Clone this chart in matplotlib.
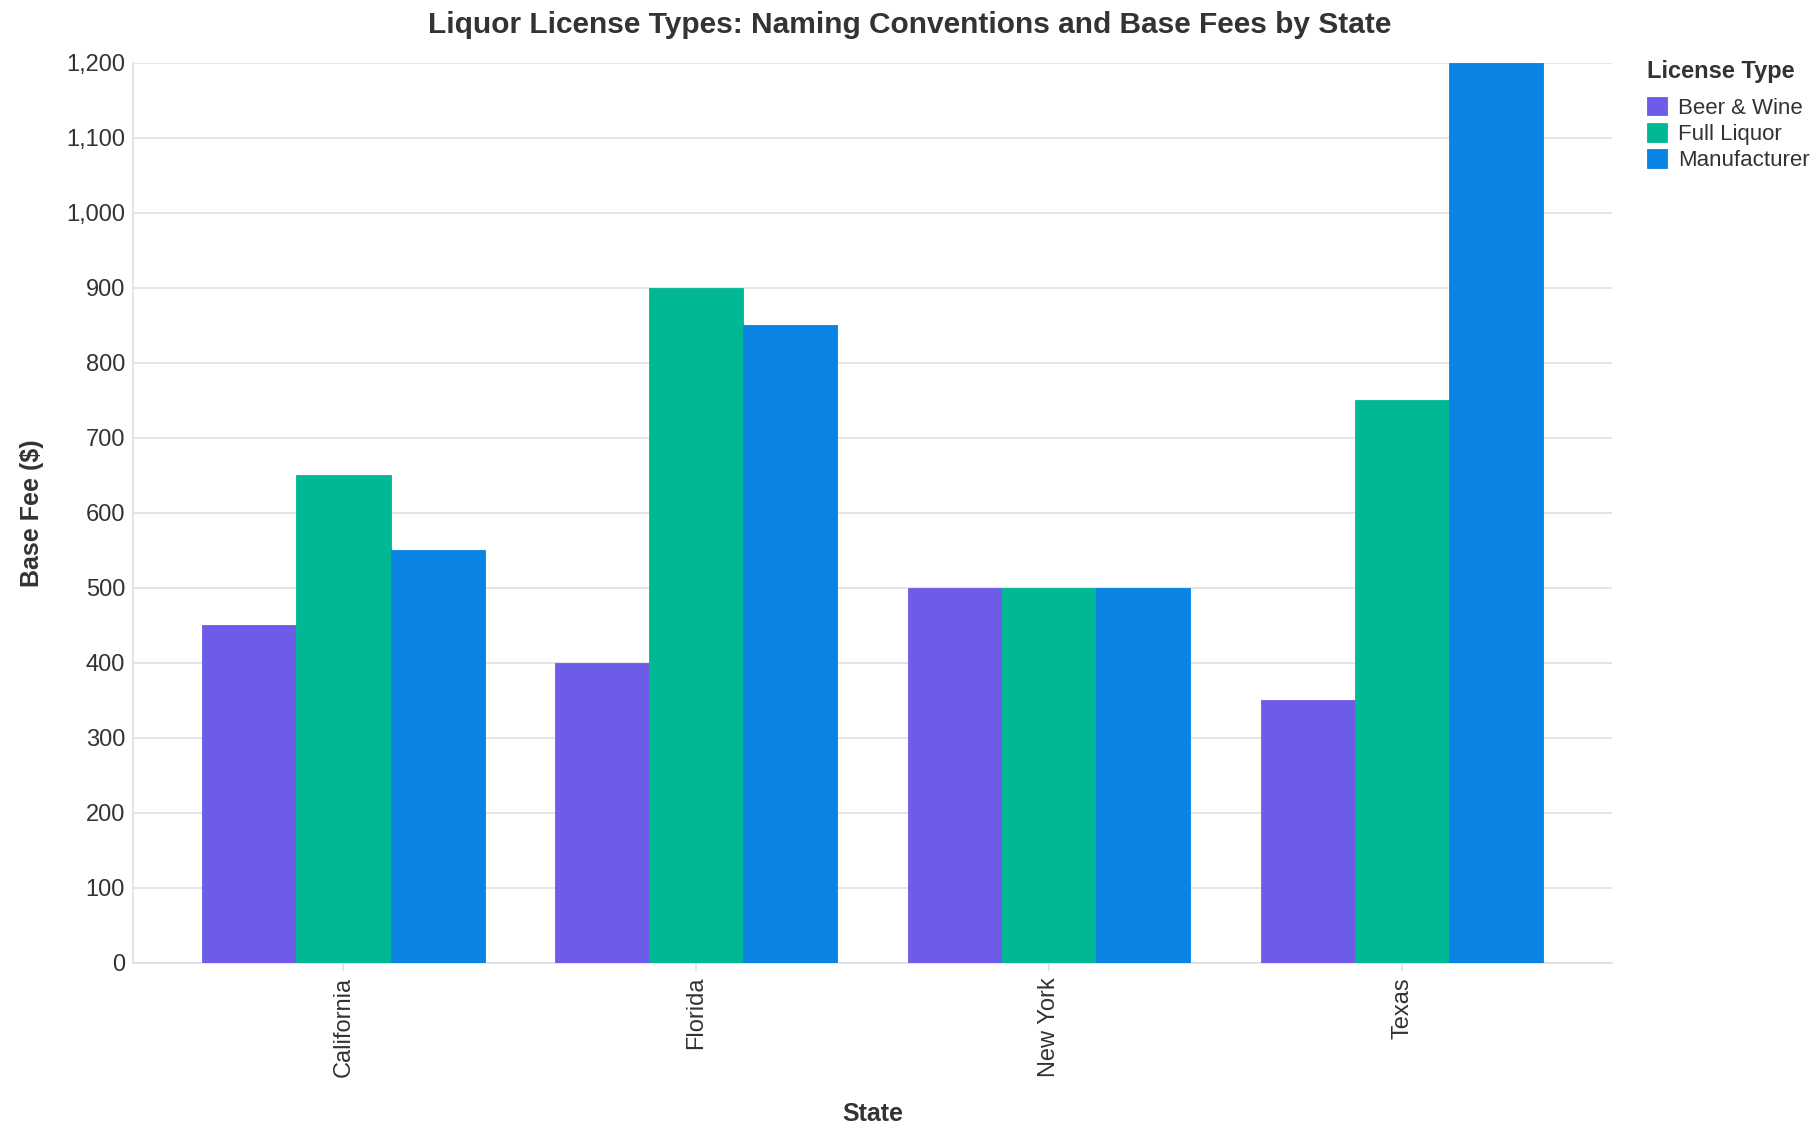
import numpy as np
import matplotlib
matplotlib.use("Agg")
import matplotlib.pyplot as plt
from matplotlib.ticker import FuncFormatter

# data
states = ["California", "Florida", "New York", "Texas"]
license_types = ["Beer & Wine", "Full Liquor", "Manufacturer"]
beer_wine = [450, 400, 500, 350]
full_liquor = [650, 900, 500, 750]
manufacturer = [550, 850, 500, 1200]
colors = ["#6c5ce7", "#00b894", "#0984e3"]

plt.rcParams["font.family"] = ["Liberation Sans", "DejaVu Sans"]
text_color = "#333333"
grid_color = "#dde1e6"

fig = plt.figure(figsize=(18.2, 11.34), dpi=100)
ax = fig.add_axes([0.0733, 0.1508, 0.8125, 0.794])

x = np.arange(len(states))
bw = 0.8 / 3
series = [beer_wine, full_liquor, manufacturer]
for i, (vals, name, c) in enumerate(zip(series, license_types, colors)):
    ax.bar(x + (i - 1) * bw, vals, width=bw, color=c, label=name,
           edgecolor=c, linewidth=0.6, zorder=3)

pad = 29 / 304
ax.set_xlim(-0.5 - pad, len(states) - 0.5 + pad)
ax.set_ylim(0, 1200)
ax.set_yticks(range(0, 1201, 100))
ax.yaxis.set_major_formatter(FuncFormatter(lambda v, p: f"{int(v):,}"))
ax.set_xticks(x)
ax.set_xticklabels(states, rotation=90)

ax.grid(axis="y", color=grid_color, linewidth=1.2, zorder=0)
ax.set_axisbelow(True)
for s in ["top", "right"]:
    ax.spines[s].set_visible(False)
for s in ["left", "bottom"]:
    ax.spines[s].set_color(grid_color)
    ax.spines[s].set_linewidth(1.2)
ax.tick_params(axis="both", colors=grid_color, labelcolor=text_color,
               labelsize=17, length=6, width=1.2)
ax.tick_params(axis="y", length=0, pad=6)
ax.tick_params(axis="x", pad=4)

ax.set_xlabel("State", fontsize=18, fontweight="bold", color=text_color, labelpad=18)
ax.set_ylabel("Base Fee ($)", fontsize=18, fontweight="bold", color=text_color, labelpad=16)
# title is centred on the whole figure, not the plot area
fig.text(0.5, 0.978, "Liquor License Types: Naming Conventions and Base Fees by State",
         ha="center", va="center", fontsize=21.5, fontweight="bold", color=text_color)

handles, labels = ax.get_legend_handles_labels()
leg = fig.legend(handles, labels, title="License Type", loc="upper left",
                 bbox_to_anchor=(0.9, 0.955), frameon=False,
                 fontsize=16, title_fontsize=17, handlelength=0.9,
                 handleheight=0.9, handletextpad=0.5, labelspacing=0.2,
                 labelcolor=text_color, borderaxespad=0)
leg.get_title().set_fontweight("bold")
leg.get_title().set_color(text_color)
leg._legend_box.align = "left"
leg._legend_box.sep = 10

fig.savefig("out.png", dpi=100)
